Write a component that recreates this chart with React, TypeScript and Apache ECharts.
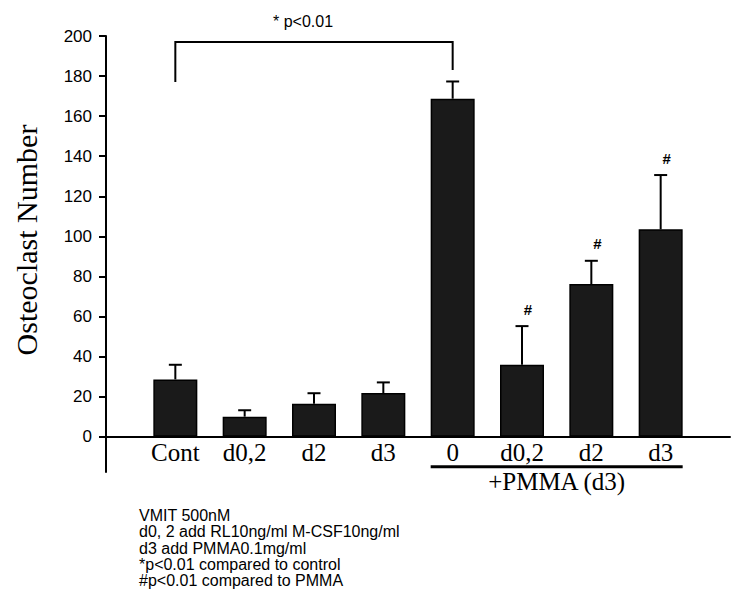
import React, { useEffect, useRef } from 'react';
import * as echarts from 'echarts';

// ---- data ----
const categories = ['Cont', 'd0,2', 'd2', 'd3', '0', 'd0,2', 'd2', 'd3'];
const means = [28.6, 10, 16.5, 21.8, 168.7, 35.9, 76.2, 103.5];
const errors = [7.3, 3.2, 5.2, 5.3, 8.6, 19.3, 11.6, 27.1];
const sigMarks = ['', '', '', '', '', '#', '#', '#'];
const yMin = 0;
const yMax = 200;
const yStep = 20;
const yAxisTail = -18; // y axis line continues below zero
const bracketFrom = 0; // Cont
const bracketTo = 4; // 0 (+PMMA)
const bracketLevels = [197, 177, 183]; // top, left end, right end
const bracketLabel = '* p<0.01';
const groupFrom = 4;
const groupTo = 7;
const groupLevel = -15;
const groupLabel = '+PMMA (d3)';
const yTitle = 'Osteoclast Number';
const notes = [
  'VMIT 500nM',
  'd0, 2 add RL10ng/ml M-CSF10ng/ml',
  'd3 add PMMA0.1mg/ml',
  '*p<0.01 compared to control',
  '#p<0.01 compared to PMMA',
];

const SERIF = '"Liberation Serif", "Times New Roman", serif';
const SANS = '"Liberation Sans", Arial, sans-serif';
const BAR_W = 44;

export default function App() {
  const ref = useRef<HTMLDivElement>(null);
  useEffect(() => {
    if (!ref.current) return;
    const chart = echarts.init(ref.current, null, { renderer: 'svg' });
    const axisCats = ['', ...categories, ''];
    const barData = ['-', ...means, '-'];
    const errData = means.map((m, i) => [i + 1, m, errors[i]]);

    const option: any = {
      animation: false,
      backgroundColor: '#fff',
      grid: { left: 106, right: 20, top: 36, bottom: 169.3, containLabel: false },
      xAxis: {
        type: 'category',
        data: axisCats,
        boundaryGap: false,
        axisLine: { show: true, lineStyle: { color: '#000', width: 2 } },
        axisTick: { show: false },
        axisLabel: {
          interval: 0,
          color: '#000',
          fontFamily: SERIF,
          fontSize: 25,
          margin: 3,
        },
        splitLine: { show: false },
      },
      yAxis: {
        type: 'value',
        min: yMin,
        max: yMax,
        interval: yStep,
        axisLine: { show: true, lineStyle: { color: '#000', width: 2 } },
        axisTick: {
          show: true,
          length: 7,
          lineStyle: { color: '#000', width: 2 },
        },
        axisLabel: {
          color: '#000',
          fontFamily: SANS,
          fontSize: 17,
          margin: 14,
        },
        splitLine: { show: false },
      },
      series: [
        {
          type: 'bar',
          data: barData,
          barWidth: BAR_W,
          itemStyle: { color: '#1a1a1a', borderColor: '#000', borderWidth: 1.5 },
          z: 2,
        },
        {
          // y-axis line extension below zero
          type: 'custom',
          clip: false,
          z: 3,
          data: [[0, yMin, yAxisTail]],
          renderItem: (params: any, api: any) => {
            const a = api.coord([api.value(0), api.value(1)]);
            const b = api.coord([api.value(0), api.value(2)]);
            return {
              type: 'line',
              shape: { x1: a[0], y1: a[1], x2: b[0], y2: b[1] },
              style: { stroke: '#000', lineWidth: 2 },
            };
          },
        },
        {
          type: 'custom',
          clip: false,
          z: 3,
          data: errData,
          renderItem: (params: any, api: any) => {
            const x = api.value(0);
            const m = api.value(1);
            const e = api.value(2);
            const base = api.coord([x, m]);
            const top = api.coord([x, m + e]);
            const children: any[] = [
              {
                type: 'line',
                shape: { x1: base[0], y1: base[1], x2: top[0], y2: top[1] },
                style: { stroke: '#000', lineWidth: 2 },
              },
              {
                type: 'line',
                shape: { x1: top[0] - 6.5, y1: top[1], x2: top[0] + 6.5, y2: top[1] },
                style: { stroke: '#000', lineWidth: 2 },
              },
            ];
            const mark = sigMarks[params.dataIndex];
            if (mark) {
              children.push({
                type: 'text',
                x: top[0] + 6,
                y: top[1] - 17,
                style: {
                  text: mark,
                  fill: '#000',
                  font: `bold 15px ${SANS}`,
                  align: 'center',
                  verticalAlign: 'middle',
                },
              });
            }
            return { type: 'group', children };
          },
        },
        {
          type: 'custom',
          clip: false,
          z: 3,
          data: [[bracketFrom + 1, bracketTo + 1, ...bracketLevels]],
          renderItem: (params: any, api: any) => {
            const a = api.value(0);
            const b = api.value(1);
            const topV = api.value(2);
            const lv = api.value(3);
            const rv = api.value(4);
            const pL = api.coord([a, lv]);
            const pTL = api.coord([a, topV]);
            const pTR = api.coord([b, topV]);
            const pR = api.coord([b, rv]);
            return {
              type: 'group',
              children: [
                {
                  type: 'polyline',
                  shape: { points: [pL, pTL, pTR, pR] },
                  style: { stroke: '#000', lineWidth: 2, fill: 'none' },
                },
                {
                  type: 'text',
                  x: (pTL[0] + pTR[0]) / 2 - 11,
                  y: pTL[1] - 21,
                  style: {
                    text: bracketLabel,
                    fill: '#000',
                    font: `16px ${SANS}`,
                    align: 'center',
                    verticalAlign: 'middle',
                  },
                },
              ],
            };
          },
        },
        {
          type: 'custom',
          clip: false,
          z: 3,
          data: [[groupFrom + 1, groupTo + 1, groupLevel]],
          renderItem: (params: any, api: any) => {
            const a = api.coord([api.value(0), api.value(2)]);
            const b = api.coord([api.value(1), api.value(2)]);
            const x1 = a[0] - BAR_W / 2;
            const x2 = b[0] + BAR_W / 2;
            return {
              type: 'group',
              children: [
                {
                  type: 'line',
                  shape: { x1, y1: a[1], x2, y2: a[1] },
                  style: { stroke: '#000', lineWidth: 3 },
                },
                {
                  type: 'text',
                  x: (x1 + x2) / 2,
                  y: a[1] + 15,
                  style: {
                    text: groupLabel,
                    fill: '#000',
                    font: `25px ${SERIF}`,
                    align: 'center',
                    verticalAlign: 'middle',
                  },
                },
              ],
            };
          },
        },
      ],
      graphic: [
        {
          type: 'text',
          x: 26,
          y: 240,
          rotation: Math.PI / 2,
          style: {
            text: yTitle,
            fill: '#000',
            font: `30px ${SERIF}`,
            align: 'center',
            verticalAlign: 'middle',
          },
        },
        {
          type: 'text',
          left: 139,
          top: 507,
          style: {
            text: notes.join('\n'),
            fill: '#000',
            font: `16px ${SANS}`,
            lineHeight: 16.4,
          },
        },
      ],
    };
    chart.setOption(option);
    return () => chart.dispose();
  }, []);
  return (
    <div
      ref={ref}
      style={{ position: 'fixed', left: 0, top: 0, width: 750, height: 606, background: '#fff' }}
    />
  );
}
